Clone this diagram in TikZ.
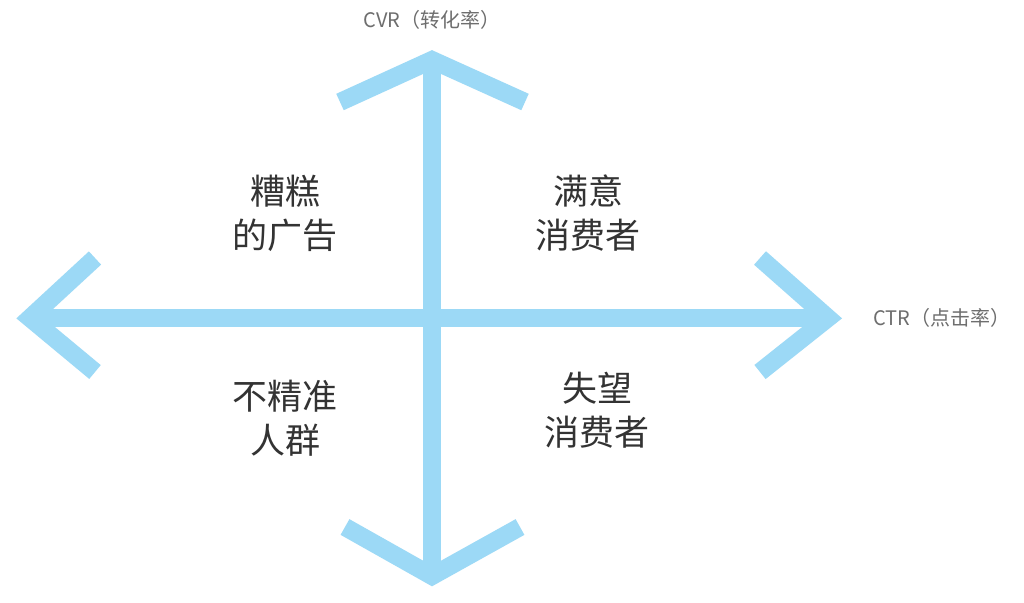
\documentclass[tikz,border=0pt]{standalone}
\usepackage{fontspec}
\setmainfont{Noto Sans CJK SC}
\definecolor{ablue}{RGB}{156,217,246}
\definecolor{txt}{RGB}{51,51,51}
\definecolor{lbl}{RGB}{110,110,110}
\begin{document}
\begin{tikzpicture}[x=1pt,y=-1pt,
  axis/.style={draw=ablue,line width=18pt},
  chev/.style={draw=ablue,line width=18pt,line join=miter},
  quad/.style={text=txt,font=\fontsize{35}{44}\selectfont,align=center},
  axlbl/.style={text=lbl,font=\fontsize{20}{24}\selectfont}]
\useasboundingbox[fill=white] (0,0) rectangle (1024,602);
\coordinate (T) at (432,60);
\coordinate (B) at (432,576);
\coordinate (L) at (30,318);
\coordinate (R) at (828,318);
\draw[axis] (T) -- (B);
\draw[axis] (L) -- (R);
\draw[chev] (340,102) -- (T) -- (525,102);
\draw[chev] (345,527) -- (B) -- (520,527);
\draw[chev] (95,258) -- (L) -- (95,372);
\draw[chev] (760,258) -- (R) -- (760,372);
\node[axlbl] (cvr) at (432,20) {CVR（转化率）};
\node[axlbl] (ctr) at (942,318) {CTR（点击率）};
\node[quad] (q1) at (285,213) {糟糕\\的广告};
\node[quad] (q2) at (588,213) {满意\\消费者};
\node[quad] (q3) at (285,418) {不精准\\人群};
\node[quad] (q4) at (597,410) {失望\\消费者};
\end{tikzpicture}
\end{document}
